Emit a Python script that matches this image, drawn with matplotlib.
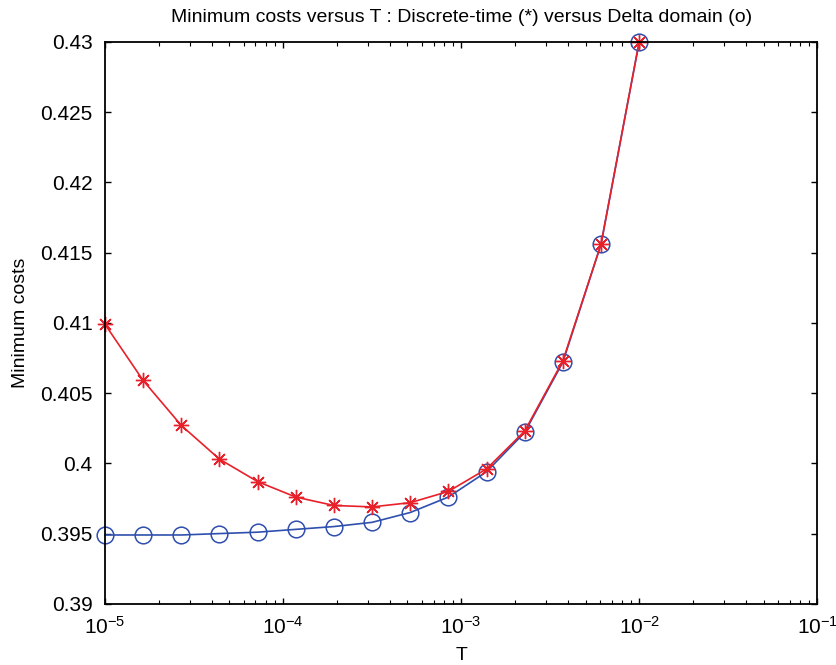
import matplotlib.pyplot as plt
from matplotlib.ticker import LogLocator, LogFormatterMathtext, NullFormatter

plt.rcParams['font.family'] = ['Liberation Sans', 'DejaVu Sans']

# sample periods T (log spaced from 1e-5 to 1e-2)
T = [1.0e-5, 1.638e-5, 2.683e-5, 4.394e-5, 7.197e-5, 1.179e-4, 1.931e-4,
     3.162e-4, 5.179e-4, 8.483e-4, 1.389e-3, 2.276e-3, 3.728e-3, 6.105e-3, 1.0e-2]

# minimum costs
discrete_time = [0.4099, 0.4059, 0.4027, 0.4003, 0.3987, 0.3976, 0.3970, 0.3969,
                 0.3972, 0.3980, 0.3996, 0.4023, 0.4073, 0.4156, 0.4300]
delta_domain = [0.3949, 0.3949, 0.3949, 0.3950, 0.3951, 0.3953, 0.3955, 0.3958,
                0.3965, 0.3976, 0.3994, 0.4022, 0.4072, 0.4156, 0.4300]

fig = plt.figure(figsize=(8.37, 6.65), dpi=100)
ax = fig.add_axes([0.1254, 0.092, 0.851, 0.845])

ax.plot(T, delta_domain, color="#2f4fae", lw=1.2, marker="o", ms=12,
        mfc="none", mec="#2f4fae", mew=1.1, clip_on=False)
ax.plot(T, discrete_time, color="#e8202a", lw=1.2, marker=(8, 2, 0), ms=11,
        mec="#e8202a", mew=1.0, clip_on=False)

ax.set_xscale("log")
ax.set_xlim(1e-5, 1e-1)
ax.set_ylim(0.39, 0.43)
ax.set_yticks([0.39, 0.395, 0.4, 0.405, 0.41, 0.415, 0.42, 0.425, 0.43])
ax.set_yticklabels(["0.39", "0.395", "0.4", "0.405", "0.41", "0.415", "0.42", "0.425", "0.43"])
ax.xaxis.set_major_locator(LogLocator(base=10, numticks=10))
ax.xaxis.set_major_formatter(LogFormatterMathtext())
ax.xaxis.set_minor_locator(LogLocator(base=10, subs=range(2, 10), numticks=20))
ax.xaxis.set_minor_formatter(NullFormatter())

ax.tick_params(which="both", direction="in", top=True, right=True, labelsize=15)
ax.tick_params(which="major", length=4.5, width=1)
ax.tick_params(which="minor", length=3, width=0.8)
ax.tick_params(axis="y", pad=9)
ax.tick_params(axis="x", which="major", pad=9)
for s in ax.spines.values():
    s.set_linewidth(1.3)

ax.set_xlabel("T", fontsize=14, labelpad=6)
ax.set_ylabel("Minimum costs", fontsize=14, labelpad=8)
ax.set_title("Minimum costs versus T : Discrete-time (*) versus Delta domain (o)",
             fontsize=14, pad=14)

fig.savefig("out.png", dpi=100)
